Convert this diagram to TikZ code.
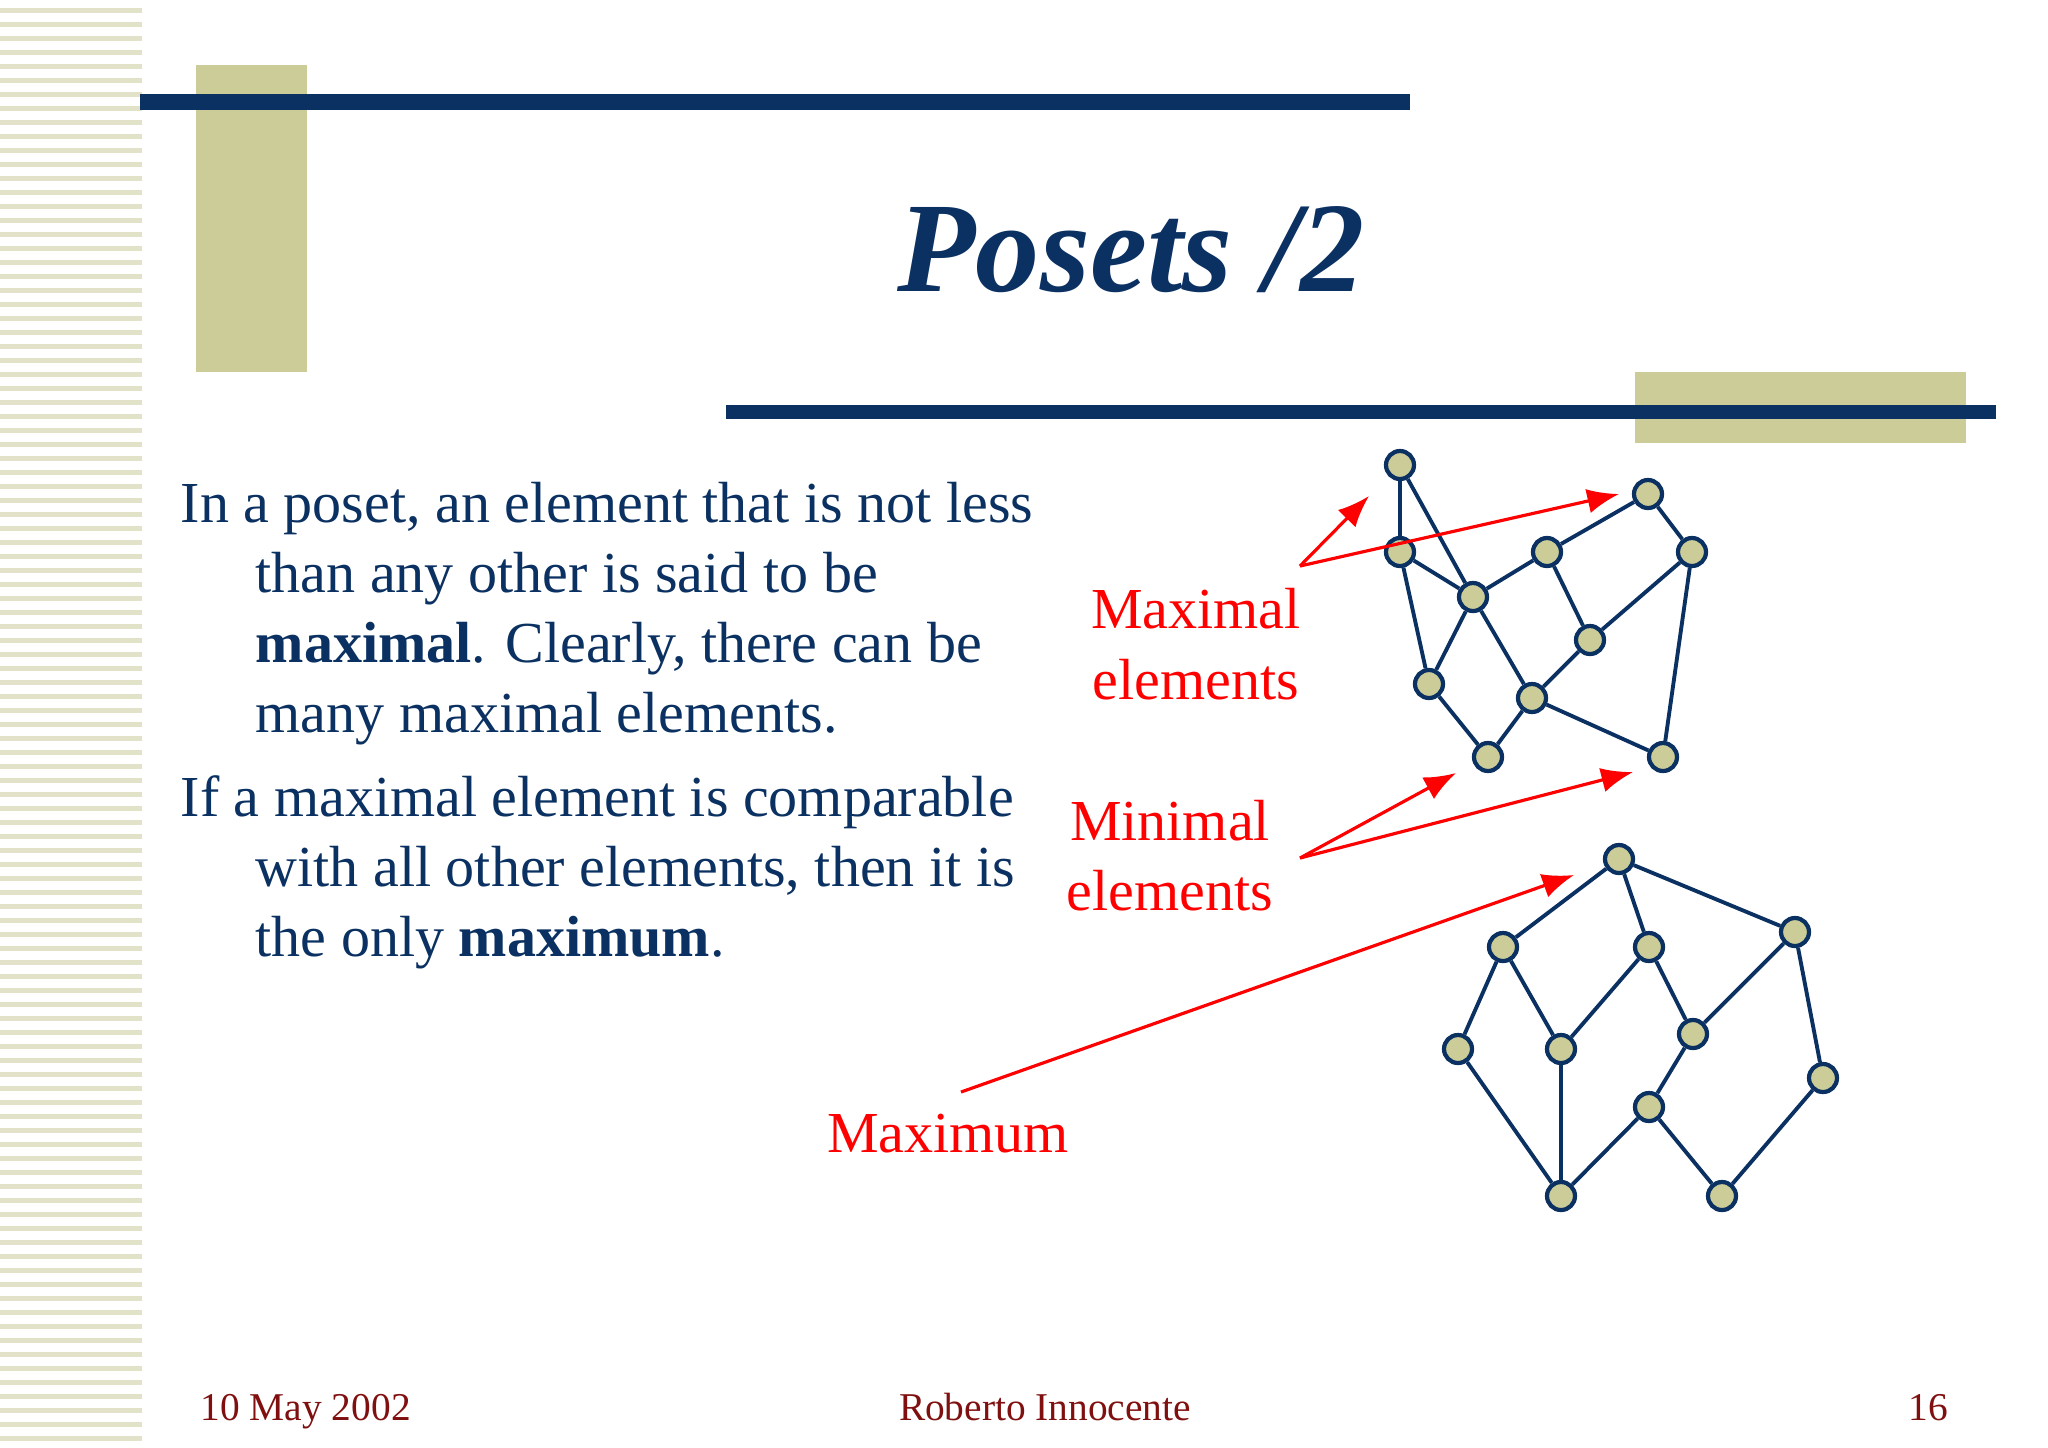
\documentclass[tikz,border=0pt]{standalone}
\usepackage{fontspec}
\setmainfont{Liberation Serif}
\definecolor{navy}{RGB}{10,49,97}
\definecolor{olive}{RGB}{204,204,153}
\definecolor{stripe}{RGB}{226,226,200}
\definecolor{foot}{RGB}{128,16,16}
\begin{document}
\begin{tikzpicture}[x=0.01cm,y=-0.01cm,
  v/.style={circle,draw=navy,fill=olive,line width=1.2pt,minimum size=28*0.01cm,inner sep=0pt},
  e/.style={navy,line width=1.1pt},
  arr/.style={red,line width=0.9pt,-{Latex[length=9pt,width=7pt]}},
  body/.style={anchor=base west,text=navy,font=\fontsize{16.5}{20}\selectfont,inner sep=0pt},
  lab/.style={text=red,font=\fontsize{16.5}{20}\selectfont,inner sep=0pt},
  ft/.style={anchor=base,text=foot,font=\fontsize{11.2}{14}\selectfont,inner sep=0pt}]
\usetikzlibrary{arrows.meta}
\useasboundingbox (0,0) rectangle (2048,1447);
\fill[white] (0,0) rectangle (2048,1447);
\foreach \y in {8,22,...,1440} \fill[stripe] (0,\y) rectangle (142,\y+5);
\fill[olive] (196,65) rectangle (307,372);
\fill[olive] (1635,372) rectangle (1966,443);
\fill[navy] (140,94) rectangle (1410,110);
\fill[navy] (726,405) rectangle (1996,419);
\node[text=navy,font=\fontsize{36.5}{42}\selectfont\bfseries\itshape] (title) at (1131,250) {Posets /2};
\node[body] (t1) at (180,522) {In a poset, an element that is not less};
\node[body] (t2) at (255,592) {than any other is said to be};
\node[body] (t3) at (255,662) {\textbf{maximal}. Clearly, there can be};
\node[body] (t4) at (255,732) {many maximal elements.};
\node[body] (t5) at (180,816) {If a maximal element is comparable};
\node[body] (t6) at (255,886) {with all other elements, then it is};
\node[body] (t7) at (255,956) {the only \textbf{maximum}.};
\node[lab] (mx1) at (1196,609) {Maximal};
\node[lab] (mx2) at (1196,680) {elements};
\node[lab] (mn1) at (1170,821) {Minimal};
\node[lab] (mn2) at (1170,891) {elements};
\node[lab] (mm) at (948,1134) {Maximum};
% upper graph
\node[v] (A) at (1400,465) {};
\node[v] (B) at (1648,494) {};
\node[v] (C) at (1400,552) {};
\node[v] (D) at (1547,552) {};
\node[v] (E) at (1692,552) {};
\node[v] (F) at (1473,597) {};
\node[v] (G) at (1590,640) {};
\node[v] (H) at (1429,684) {};
\node[v] (I) at (1532,698) {};
\node[v] (J) at (1488,757) {};
\node[v] (K) at (1663,757) {};
\foreach \a/\b in {A/C,A/F,C/F,C/H,F/D,D/B,B/E,D/G,G/I,G/E,F/H,F/I,H/J,I/J,I/K,E/K}
  \draw[e] (\a) -- (\b);
% lower graph
\node[v] (T) at (1619,859) {};
\node[v] (L1) at (1503,947) {};
\node[v] (L2) at (1649,947) {};
\node[v] (R1) at (1795,932) {};
\node[v] (M1) at (1458,1049) {};
\node[v] (M2) at (1561,1049) {};
\node[v] (M3) at (1693,1034) {};
\node[v] (M4) at (1649,1107) {};
\node[v] (R2) at (1823,1078) {};
\node[v] (B1) at (1561,1196) {};
\node[v] (B2) at (1722,1196) {};
\foreach \a/\b in {T/L1,T/L2,T/R1,L1/M1,L1/M2,L2/M2,L2/M3,R1/M3,R1/R2,M1/B1,M2/B1,M3/M4,M4/B1,M4/B2,R2/B2}
  \draw[e] (\a) -- (\b);
% arrows
\coordinate (pmx) at (1300,566);
\coordinate (pmn) at (1300,858);
\coordinate (pmm) at (961,1092);
\coordinate (a1) at (1369,496);
\coordinate (a2) at (1619,494);
\coordinate (a3) at (1456,773);
\coordinate (a4) at (1633,772);
\coordinate (a5) at (1574,875);
\draw[arr] (pmx) -- (a1);
\draw[arr] (pmx) -- (a2);
\draw[arr] (pmn) -- (a3);
\draw[arr] (pmn) -- (a4);
\draw[arr] (pmm) -- (a5);
\node[ft,anchor=base west] (f1) at (200,1420) {10 May 2002};
\node[ft] (f2) at (1045,1420) {Roberto Innocente};
\node[ft] (f3) at (1928,1420) {16};
\end{tikzpicture}
\end{document}
